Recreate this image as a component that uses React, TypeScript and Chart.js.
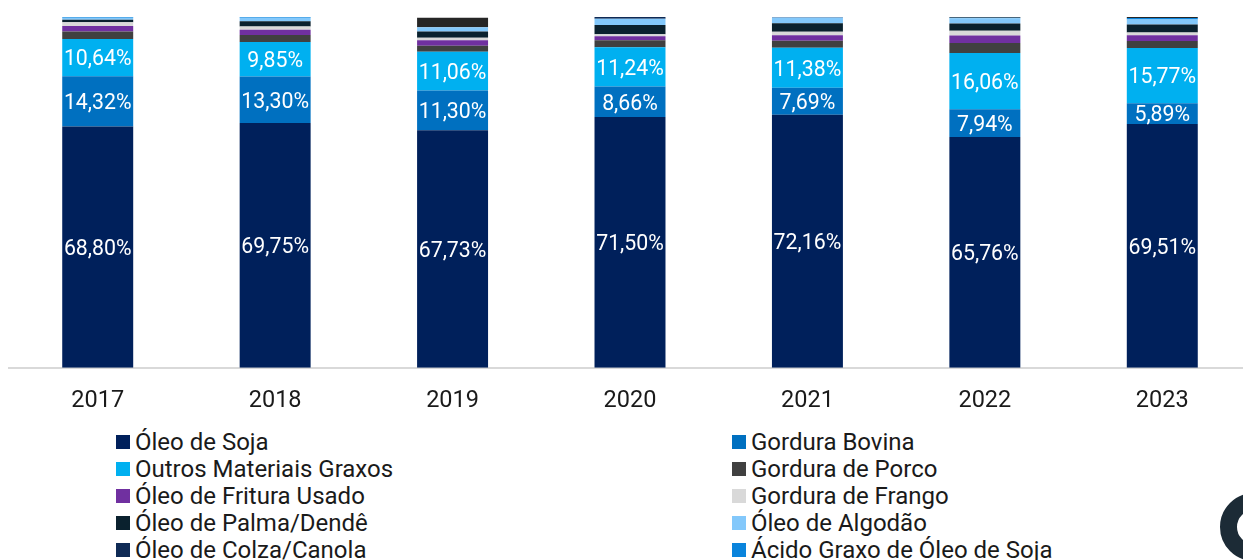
import React, { useEffect, useRef } from "react";
import { Chart, registerables } from "chart.js";

Chart.register(...registerables);

const years = ["2017", "2018", "2019", "2020", "2021", "2022", "2023"];
const oleoSoja = [68.8, 69.75, 67.73, 71.5, 72.16, 65.76, 69.51];
const gorduraBovina = [14.32, 13.3, 11.3, 8.66, 7.69, 7.94, 5.89];
const outrosMateriais = [10.64, 9.85, 11.06, 11.24, 11.38, 16.06, 15.77];
const gorduraPorco = [2.1, 2.0, 1.7, 2.0, 2.0, 2.8, 2.0];
const oleoFritura = [1.6, 1.5, 1.6, 1.1, 1.6, 2.2, 1.6];
const gorduraFrango = [1.05, 0.9, 0.7, 0.6, 1.0, 1.3, 0.8];
const oleoPalma = [0.7, 1.5, 1.8, 2.6, 2.4, 2.1, 2.3];
const oleoAlgodao = [0.6, 1.0, 1.2, 1.8, 1.6, 1.5, 1.4];
const oleoColza = [0.0, 0.0, 0.0, 0.5, 0.17, 0.0, 0.0];
const acidoGraxo = [0.19, 0.2, 0.0, 0.0, 0.0, 0.1, 0.43];
const outros = [0.0, 0.0, 2.7, 0.0, 0.0, 0.24, 0.3];

const seriesNames = [
  "Óleo de Soja",
  "Gordura Bovina",
  "Outros Materiais Graxos",
  "Gordura de Porco",
  "Óleo de Fritura Usado",
  "Gordura de Frango",
  "Óleo de Palma/Dendê",
  "Óleo de Algodão",
  "Óleo de Colza/Canola",
  "Ácido Graxo de Óleo de Soja",
  "Outros",
];
const seriesValues = [
  oleoSoja, gorduraBovina, outrosMateriais, gorduraPorco, oleoFritura, gorduraFrango,
  oleoPalma, oleoAlgodao, oleoColza, acidoGraxo, outros,
];
const seriesColors = [
  "#00205b", "#0070c0", "#00b0f0", "#404040", "#7030a0", "#d9d9d9",
  "#0a212e", "#83c8fb", "#0f2a55", "#0a84dc", "#262626",
];
const labelledSeries = 3;
const fontName = "Roboto, sans-serif";

const labelPlugin = {
  id: "barLabels",
  afterDatasetsDraw(chart: any) {
    const ctx = chart.ctx;
    ctx.save();
    ctx.font = `21.3px ${fontName}`;
    ctx.fillStyle = "#ffffff";
    ctx.textAlign = "center";
    ctx.textBaseline = "middle";
    for (let d = 0; d < labelledSeries; d++) {
      chart.getDatasetMeta(d).data.forEach((bar: any, i: number) => {
        const text = seriesValues[d][i].toFixed(2).replace(".", ",") + "%";
        ctx.fillText(text, bar.x, (bar.y + bar.base) / 2 + 2.5);
      });
    }
    ctx.restore();
  },
};

export default function App() {
  const ref = useRef<HTMLCanvasElement>(null);
  useEffect(() => {
    const chart = new Chart(ref.current!, {
      type: "bar",
      data: {
        labels: years,
        datasets: seriesNames.map((label, i) => ({
          label,
          data: seriesValues[i],
          backgroundColor: seriesColors[i],
          borderWidth: 0,
          categoryPercentage: 0.4,
          barPercentage: 1,
        })),
      },
      options: {
        responsive: false,
        animation: false,
        layout: { padding: { left: 9, right: 9, top: 17, bottom: 0 } },
        plugins: { legend: { display: false }, tooltip: { enabled: false } },
        scales: {
          x: {
            stacked: true,
            grid: { display: false },
            border: { color: "#d9d9d9", width: 2 },
            ticks: { color: "#1a1a1a", font: { family: fontName, size: 23.5 }, padding: 11, maxRotation: 0 },
          },
          y: { stacked: true, display: false, min: 0, max: 100 },
        },
      },
      plugins: [labelPlugin],
    });
    return () => chart.destroy();
  }, []);

  const swatch = (i: number) => (
    <div
      key={i}
      style={{
        position: "absolute",
        left: i % 2 === 0 ? 116 : 732,
        top: 428 + 27 * Math.floor(i / 2),
        height: 27,
        display: "flex",
        alignItems: "center",
        whiteSpace: "nowrap",
        font: `24px ${fontName}`,
        color: "#1a1a1a",
      }}
    >
      <span style={{ width: 14, height: 14, background: seriesColors[i], marginRight: 5, flex: "none" }} />
      {seriesNames[i]}
    </div>
  );

  return (
    <div style={{ position: "fixed", left: 0, top: 0, width: 1243, height: 560, overflow: "hidden", background: "#fff" }}>
      <canvas ref={ref} width={1260} height={426} style={{ position: "absolute", left: 0, top: 0 }} />
      {seriesNames.slice(0, 10).map((_, i) => swatch(i))}
      <div
        style={{
          position: "absolute",
          left: 1220,
          top: 493,
          width: 68,
          height: 68,
          boxSizing: "border-box",
          borderRadius: "50%",
          border: "17px solid #1c2b36",
        }}
      />
    </div>
  );
}
